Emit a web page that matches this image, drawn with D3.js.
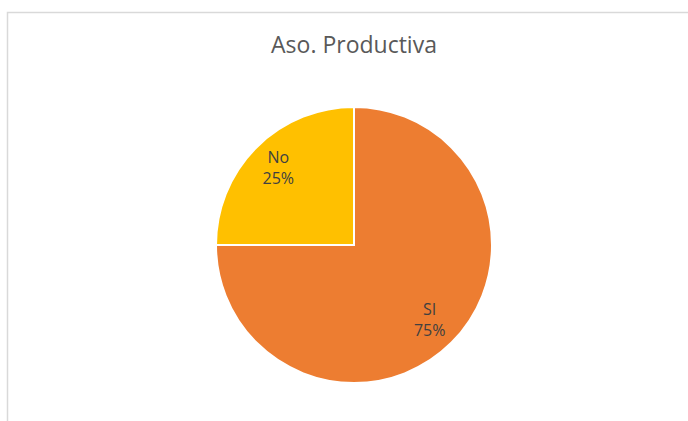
<!DOCTYPE html>
<html><head><meta charset="utf-8">
<script src="https://cdn.jsdelivr.net/npm/d3@7"></script>
<style>html,body{margin:0;padding:0;background:#fff;}svg{display:block;}</style>
</head><body>
<script>
const title = "Aso. Productiva";
const categories = ["SI", "No"];
const values = [75, 25];
const colors = ["#ED7D31", "#FFC000"];

const W = 688, H = 421;
const svg = d3.select("body").append("svg").attr("width", W).attr("height", H);

svg.append("rect").attr("x", 7.5).attr("y", 12.5).attr("width", W + 10).attr("height", H + 10)
  .attr("fill", "#fff").attr("stroke", "#d9d9d9").attr("stroke-width", 1.5);

svg.append("text").attr("x", 354).attr("y", 53).attr("text-anchor", "middle")
  .attr("font-family", "'Open Sans', 'Noto Sans', sans-serif").attr("font-size", 23)
  .attr("fill", "#595959").text(title);

const cx = 354, cy = 245, r = 138;
const g = svg.append("g").attr("transform", `translate(${cx},${cy})`);
const pie = d3.pie().sort(null).value(d => d.v);
const data = pie(categories.map((c, i) => ({c, v: values[i], col: colors[i]})));
const arc = d3.arc().innerRadius(0).outerRadius(r);
const total = d3.sum(values);

g.selectAll("path").data(data).join("path")
  .attr("d", arc).attr("fill", d => d.data.col)
  .attr("stroke", "#fff").attr("stroke-width", 2).attr("stroke-linejoin", "miter");

const labelArc = d3.arc().innerRadius(107).outerRadius(107);
const lab = g.selectAll("g.lab").data(data).join("g").attr("class", "lab")
  .attr("transform", d => { const [x, y] = labelArc.centroid(d); return `translate(${x},${y})`; });
lab.append("text").attr("text-anchor", "middle").attr("y", -6)
  .attr("font-family", "'Open Sans', 'Noto Sans', sans-serif").attr("font-size", 16)
  .attr("fill", "#404040").text(d => d.data.c);
lab.append("text").attr("text-anchor", "middle").attr("y", 15)
  .attr("font-family", "'Open Sans', 'Noto Sans', sans-serif").attr("font-size", 16)
  .attr("fill", "#404040").text(d => Math.round(d.data.v / total * 100) + "%");
</script>
</body></html>
